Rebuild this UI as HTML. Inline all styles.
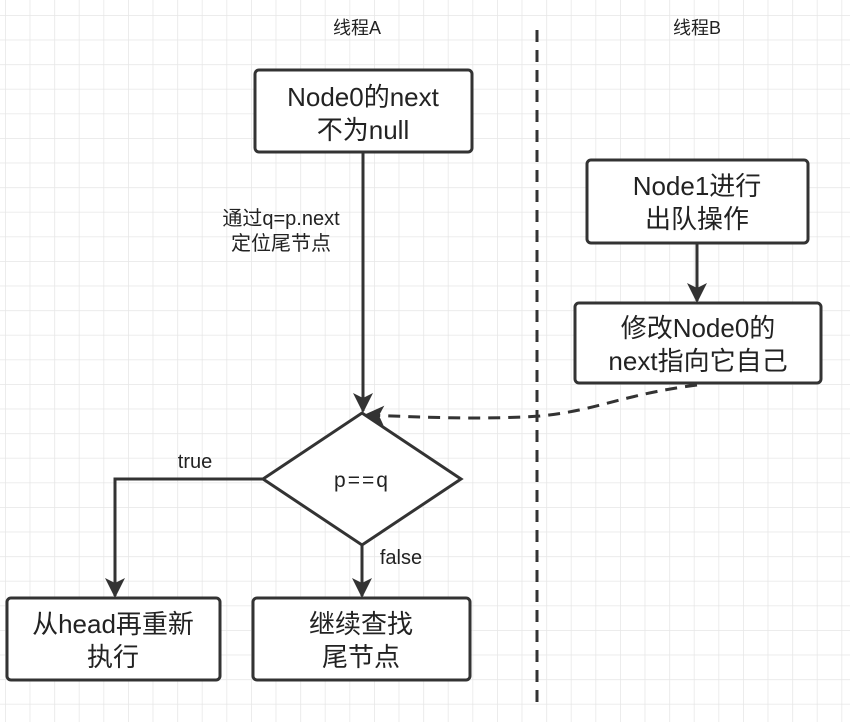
<!DOCTYPE html>
<html><head><meta charset="utf-8"><style>
html,body{margin:0;padding:0;background:#fff}
svg{display:block}
text{font-family:"Liberation Sans","Noto Sans CJK SC",sans-serif;fill:#222}
</style></head><body>
<svg width="850" height="722" viewBox="0 0 850 722" xmlns="http://www.w3.org/2000/svg">
<defs>
<pattern id="g" x="5" y="15" width="24.6" height="24.6" patternUnits="userSpaceOnUse">
<path d="M0 0H24.6M0 0V24.6" stroke="#e6e6e6" stroke-width="1.5" fill="none"/>
</pattern>
<marker id="b" viewBox="0 0 10 10" markerWidth="20" markerHeight="20" refX="9" refY="5" orient="auto" markerUnits="userSpaceOnUse">
<path d="M0 0 L10 5 L0 10 L2.5 5 Z" fill="#333"/>
</marker>
</defs>
<rect width="850" height="722" fill="url(#g)"/>
<text x="357" y="34" font-size="18" text-anchor="middle">线程A</text>
<text x="697" y="34" font-size="18" text-anchor="middle">线程B</text>
<line x1="537" y1="30" x2="537" y2="705" stroke="#333" stroke-width="3" stroke-dasharray="12,8"/>
<g stroke="#333" stroke-width="3" fill="#fff">
<rect x="255" y="70" width="217" height="82" rx="4"/>
<rect x="587" y="160" width="221" height="83" rx="4"/>
<rect x="575" y="303" width="246" height="80" rx="4"/>
<rect x="7" y="598" width="213" height="82" rx="4"/>
<rect x="253" y="598" width="217" height="82" rx="4"/>
<polygon points="362,413 461,479 362,545 263,479"/>
</g>
<g stroke="#333" stroke-width="3" fill="none">
<line x1="363" y1="152" x2="363" y2="411" marker-end="url(#b)"/>
<line x1="697" y1="243" x2="697" y2="301" marker-end="url(#b)"/>
<polyline points="263,479 115,479 115,596" marker-end="url(#b)"/>
<line x1="362" y1="545" x2="362" y2="596" marker-end="url(#b)"/>
<path d="M697 385 C 620 395, 600 410, 540 416 C 480 420, 420 417, 366 415" stroke-dasharray="12,8" marker-end="url(#b)"/>
</g>
<g font-size="26" text-anchor="middle">
<text x="363" y="106">Node0的next</text>
<text x="363" y="139">不为null</text>
<text x="697" y="195">Node1进行</text>
<text x="697" y="228">出队操作</text>
<text x="698" y="337">修改Node0的</text>
<text x="698" y="370">next指向它自己</text>
<text x="113" y="633">从head再重新</text>
<text x="113" y="666">执行</text>
<text x="361" y="633">继续查找</text>
<text x="361" y="666">尾节点</text>
</g>
<g font-size="20" text-anchor="middle">
<text x="281" y="225">通过q=p.next</text>
<text x="281" y="250">定位尾节点</text>
<text x="362" y="487" font-size="21" letter-spacing="2">p==q</text>
<text x="195" y="468">true</text>
<text x="401" y="564">false</text>
</g>
</svg>
</body></html>
